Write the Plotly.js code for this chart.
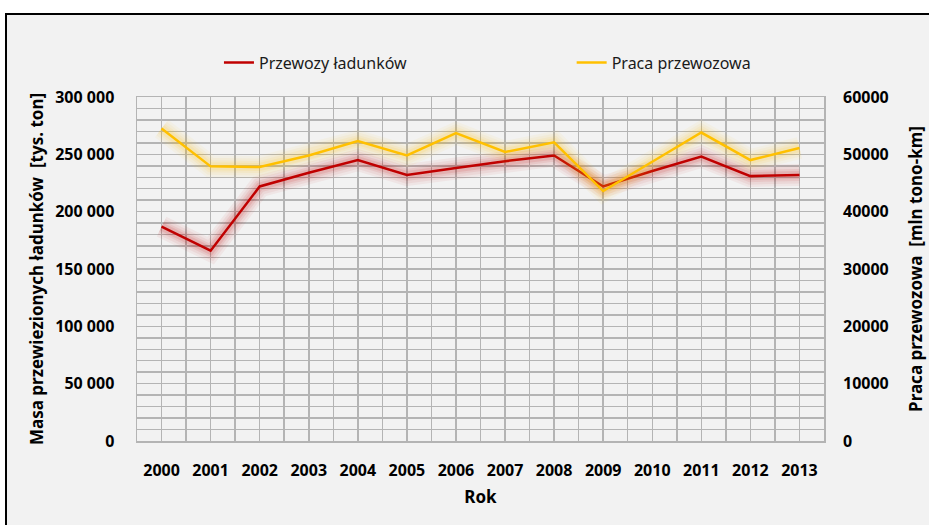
<!DOCTYPE html>
<html>
<head>
<meta charset="utf-8">
<script src="https://cdn.plot.ly/plotly-3.0.1.min.js"></script>
<style>
html,body{margin:0;padding:0;background:#fff;overflow:hidden;width:929px;height:525px;}
#frame{position:absolute;left:5px;top:13px;width:940px;height:530px;border:2px solid #000;background:#f2f2f2;overflow:hidden;}
#chart{width:922px;height:510px;}
</style>
</head>
<body>
<div id="frame"><div id="chart"></div></div>
<script>
var years = [2000, 2001, 2002, 2003, 2004, 2005, 2006, 2007, 2008, 2009, 2010, 2011, 2012, 2013];
var przewozy = [187000, 166000, 222000, 234000, 245000, 232000, 238000, 244000, 249000, 222000, 235500, 248000, 231000, 232000];
var praca = [54500, 47900, 47800, 49800, 52300, 49800, 53700, 50400, 52100, 43600, 48700, 53800, 49000, 51100];
var nameA = 'Przewozy ładunków';
var nameB = 'Praca przewozowa';
var redC = '#c00000', yelC = '#ffc000';
var FONT = '"Noto Sans", "Open Sans", sans-serif';

var traces = [];
function glow(y, color, axis) {
  [[22, 0.05], [17, 0.06], [12, 0.08], [8, 0.1]].forEach(function (g) {
    traces.push({x: years, y: y, yaxis: axis, type: 'scatter', mode: 'lines',
      line: {color: color, width: g[0]}, opacity: g[1], showlegend: false, hoverinfo: 'skip'});
  });
}
glow(przewozy, redC, 'y');
glow(praca, yelC, 'y2');
traces.push({x: years, y: przewozy, name: nameA, type: 'scatter', mode: 'lines', line: {color: redC, width: 2.5}, legend: 'legend'});
traces.push({x: years, y: praca, name: nameB, yaxis: 'y2', type: 'scatter', mode: 'lines', line: {color: yelC, width: 2.5}, legend: 'legend2'});

var gridC = '#b4b4b4';
var legFont = {family: FONT, size: 16, color: '#1a1a1a'};
var layout = {
  width: 922, height: 510,
  margin: {l: 130, r: 104.5, t: 81.5, b: 84},
  paper_bgcolor: '#f2f2f2', plot_bgcolor: '#f2f2f2',
  font: {family: FONT, color: '#000'},
  separators: ', ',
  showlegend: true,
  legend: {orientation: 'h', x: 0.1193, xanchor: 'left', y: 1.10, yanchor: 'middle',
    font: legFont, bgcolor: 'rgba(0,0,0,0)'},
  legend2: {orientation: 'h', x: 0.6327, xanchor: 'left', y: 1.10, yanchor: 'middle',
    font: legFont, bgcolor: 'rgba(0,0,0,0)'},
  xaxis: {
    range: [1999.5, 2013.5], tickvals: years, ticktext: years.map(String),
    showgrid: true, gridcolor: gridC, gridwidth: 1.5,
    minor: {dtick: 0.5, tick0: 1999.5, showgrid: true, gridcolor: gridC, gridwidth: 1.5},
    showline: true, linecolor: gridC, linewidth: 1.5, mirror: true, zeroline: false, ticks: '',
    ticklabelstandoff: 14,
    tickfont: {family: FONT, size: 16, color: '#000', weight: 'bold'},
    title: {text: '<b>Rok</b>', font: {family: FONT, size: 17, color: '#000'}, standoff: 11}
  },
  yaxis: {
    range: [0, 300000], dtick: 50000, tickformat: ',d',
    showgrid: true, gridcolor: gridC, gridwidth: 1.5,
    minor: {dtick: 10000, showgrid: true, gridcolor: gridC, gridwidth: 1.5},
    showline: true, linecolor: gridC, linewidth: 1.5, mirror: true, zeroline: false, ticks: '',
    ticklabelstandoff: 18,
    tickfont: {family: FONT, size: 16, color: '#000', weight: 'bold'},
    title: {text: '<b>Masa przewiezionych ładunków  [tys. ton]</b>', font: {family: FONT, size: 17, color: '#000'}, standoff: 7}
  },
  yaxis2: {
    range: [0, 60000], dtick: 10000, tickformat: 'd', overlaying: 'y', side: 'right',
    showgrid: false, zeroline: false, showline: false, ticks: '',
    ticklabelstandoff: 18,
    tickfont: {family: FONT, size: 16, color: '#000', weight: 'bold'},
    title: {text: '<b>Praca przewozowa  [mln tono-km]</b>', font: {family: FONT, size: 17, color: '#000'}, standoff: 22}
  }
};
Plotly.newPlot('chart', traces, layout, {displayModeBar: false, staticPlot: true});
</script>
</body>
</html>
